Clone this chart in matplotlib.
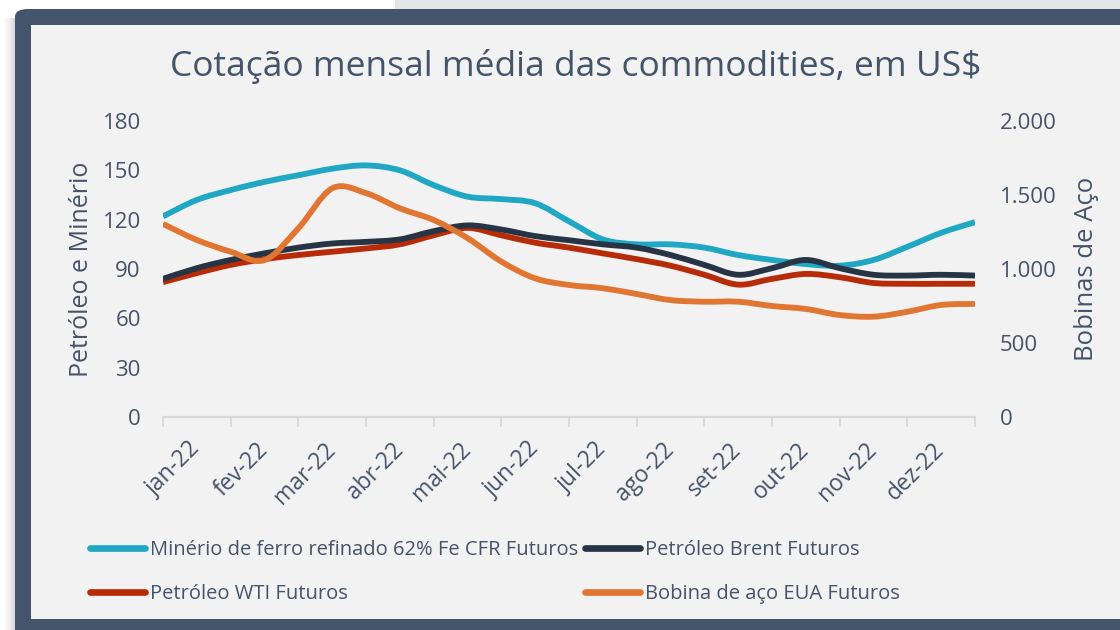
import numpy as np
import matplotlib.pyplot as plt
from matplotlib.patches import Rectangle, FancyBboxPatch, PathPatch
from matplotlib.path import Path
from matplotlib.lines import Line2D

plt.rcParams['font.family'] = ['Open Sans', 'DejaVu Sans']

meses = ['jan-22', 'fev-22', 'mar-22', 'abr-22', 'mai-22', 'jun-22',
         'jul-22', 'ago-22', 'set-22', 'out-22', 'nov-22', 'dez-22']

# leituras a cada meio mes (jan-22 inicio ate dez-22 fim)
periodo = np.arange(25) * 0.5
minerio = [122, 132, 138, 143, 147, 151, 153, 150, 141, 134, 132.5, 130, 119,
           108, 105, 105, 103, 98.5, 95.5, 93, 92, 95.5, 103.5, 112, 118.5]
brent = [84, 90.5, 95.5, 99.5, 103, 105.5, 106.5, 108, 113, 116.5, 114, 110, 107.5,
         105, 103, 98.5, 92.5, 86.5, 90.5, 95.5, 90.5, 86.5, 86, 86.5, 86]
wti = [82, 87.5, 92.5, 96, 98.5, 100.5, 102.5, 105, 110.5, 115, 110.5, 106, 103,
       99.5, 96, 92, 86.5, 80.5, 84, 87, 85, 81.5, 81, 81, 81]
bobina = [1305, 1196, 1117, 1060, 1275, 1545, 1513, 1410, 1331, 1209, 1050, 937, 892,
          870, 831, 790, 779, 779, 750, 730, 689, 678, 711, 757, 764]

ticks_esq = [0, 30, 60, 90, 120, 150, 180]
ticks_dir = [0, 500, 1000, 1500, 2000]
labels_dir = ['0', '500', '1.000', '1.500', '2.000']

nomes = ['Minério de ferro refinado 62% Fe CFR Futuros', 'Petróleo Brent Futuros',
         'Petróleo WTI Futuros', 'Bobina de aço EUA Futuros']
cores = ['#1FA7C4', '#263445', '#B82B08', '#E07632']

txt = '#44546A'
W, H = 1120, 630
LW = 4.2
fig = plt.figure(figsize=(11.2, 6.3), dpi=100)
fig.patch.set_facecolor('white')

def px(x, y, w, h):
    # retangulo em pixels (origem no topo) -> coordenadas da figura
    return (x / W, 1 - (y + h) / H), w / W, h / H

def linha_suave(a, xs, ys, cor):
    # linha suavizada tipo Excel: curvas de Bezier passando pelos pontos lidos
    p = np.column_stack([xs, ys]).astype(float)
    verts = [p[0]]
    codes = [Path.MOVETO]
    n = len(p)
    for i in range(n - 1):
        p0 = p[max(i - 1, 0)]
        p3 = p[min(i + 2, n - 1)]
        c1 = p[i] + (p[i + 1] - p0) / 6
        c2 = p[i + 1] - (p3 - p[i]) / 6
        verts += [c1, c2, p[i + 1]]
        codes += [Path.CURVE4] * 3
    a.add_patch(PathPatch(Path(verts, codes), fill=False, edgecolor=cor, lw=LW,
                          capstyle='butt', joinstyle='round'))
    return Line2D([], [], color=cor, lw=LW + 0.6, solid_capstyle='round')

# fundo / moldura
(x0, y0), w0, h0 = px(395, 0, 725, 10)
fig.patches.append(Rectangle((x0, y0), w0, h0, transform=fig.transFigure,
                             facecolor='#E4E5E7', edgecolor='none', zorder=-5))
for i, a in enumerate([0.04, 0.07, 0.11, 0.16, 0.22]):
    (x0, y0), w0, h0 = px(5 + 2 * i, 18, 2, 612)
    fig.patches.append(Rectangle((x0, y0), w0, h0, transform=fig.transFigure,
                                 facecolor='#555555', alpha=a, edgecolor='none', zorder=-5))
(x0, y0), w0, h0 = px(15, 9, 1125, 640)
fig.patches.append(FancyBboxPatch((x0, y0), w0, h0, transform=fig.transFigure,
                                  boxstyle='round,pad=0,rounding_size=0.012',
                                  facecolor='#44546A', edgecolor='none', zorder=-4))
(x0, y0), w0, h0 = px(31, 25, 1100, 594)
fig.patches.append(Rectangle((x0, y0), w0, h0, transform=fig.transFigure,
                             facecolor='#F2F2F2', edgecolor='none', zorder=-3))

(l, b), w, h = px(163, 121, 812, 296)
ax = fig.add_axes([l, b, w, h])
ax.set_facecolor('none')
ax2 = ax.twinx()

h1 = linha_suave(ax, periodo, minerio, cores[0])
h3 = linha_suave(ax, periodo, wti, cores[2])
h2 = linha_suave(ax, periodo, brent, cores[1])
h4 = linha_suave(ax2, periodo, bobina, cores[3])

ax.set_xlim(0, 12)
ax.set_ylim(0, 180)
ax2.set_ylim(0, 2000)
ax.set_yticks(ticks_esq)
ax2.set_yticks(ticks_dir)
ax2.set_yticklabels(labels_dir)

ax.set_xticks(range(13))
ax.set_xticklabels([])
ax.set_xticks(np.arange(12) + 0.5, minor=True)
ax.set_xticklabels(meses, minor=True, rotation=45, ha='right', va='center',
                   rotation_mode='anchor', fontsize=16.5, color=txt)
ax.tick_params(axis='x', which='major', length=7, width=1.3, color='#D9D9D9', direction='out')
ax.tick_params(axis='x', which='minor', length=0, pad=21)
ax.tick_params(axis='y', length=0, pad=16, labelsize=16, labelcolor=txt)
ax2.tick_params(axis='y', length=0, pad=18, labelsize=16, labelcolor=txt)

for a in (ax, ax2):
    for s in a.spines.values():
        s.set_visible(False)
ax.spines['bottom'].set_visible(True)
ax.spines['bottom'].set_color('#D9D9D9')
ax.spines['bottom'].set_linewidth(1.6)

ax.set_ylabel('Petróleo e Minério', fontsize=18, color=txt, labelpad=6)
ax2.set_ylabel('Bobinas de Aço', fontsize=18.5, color=txt, labelpad=12)

fig.text(576 / W, 1 - 66 / H, 'Cotação mensal média das commodities, em US$',
         ha='center', va='center', fontsize=25.5, color=txt)

fig.legend([h1, h3, h2, h4], [nomes[0], nomes[2], nomes[1], nomes[3]],
           ncol=2, loc='upper left', bbox_to_anchor=(90 / W, 1 - 540 / H),
           frameon=False, fontsize=14.5, labelcolor=txt, handlelength=2.75,
           handletextpad=0.25, columnspacing=0.3, labelspacing=1.2,
           borderpad=0, borderaxespad=0)

fig.savefig('out.png', dpi=100)
